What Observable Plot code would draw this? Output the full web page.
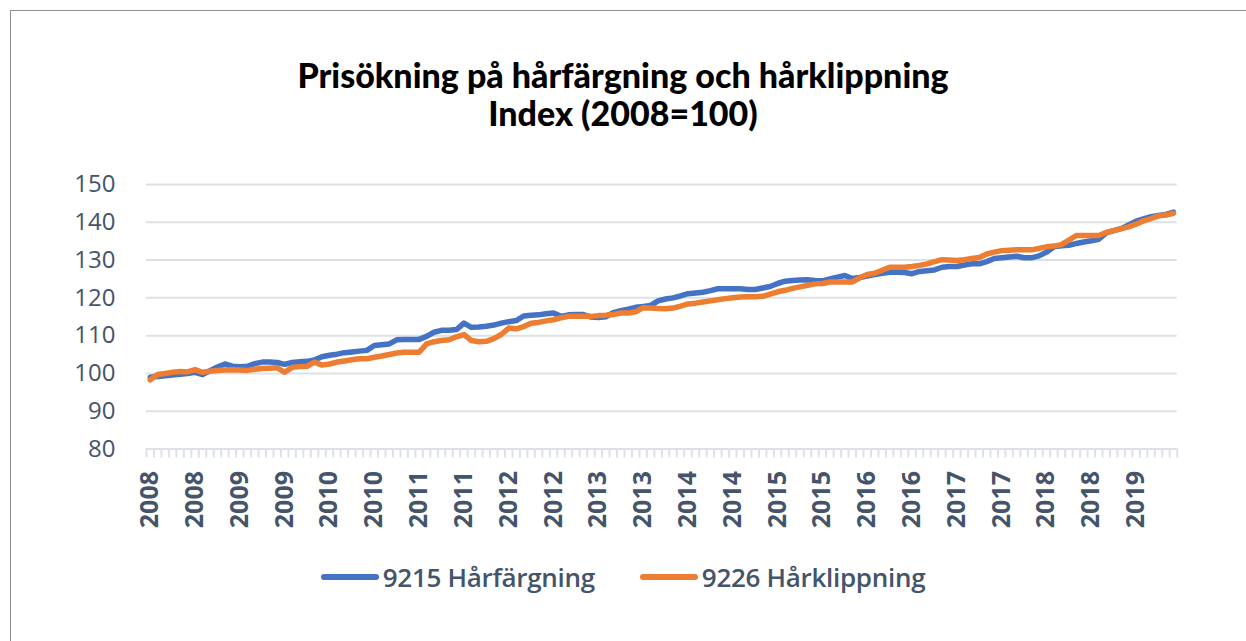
<!DOCTYPE html>
<html><head><meta charset="utf-8">
<script src="https://cdn.jsdelivr.net/npm/d3@7"></script>
<script src="https://cdn.jsdelivr.net/npm/@observablehq/plot@0.6"></script>
<style>
body{margin:0;background:#fff;}
#wrap{position:relative;width:1246px;height:641px;overflow:hidden;font-family:"Open Sans",sans-serif;background:#fff;}
#frame{position:absolute;left:10px;top:10px;width:1250px;height:650px;border-left:1.5px solid #8f8f8f;border-top:1.5px solid #8f8f8f;}
#title{position:absolute;left:0;width:1246px;top:56px;text-align:center;font-family:Lato,sans-serif;font-weight:900;font-size:34px;line-height:38px;color:#000;}
#chart{position:absolute;left:0;top:150px;}
#legend{position:absolute;top:562px;left:0;width:1246px;height:30px;display:flex;justify-content:center;align-items:center;font-family:"Open Sans",sans-serif;font-weight:600;font-size:26px;letter-spacing:-0.3px;color:#44546a;}
.item{display:flex;align-items:center;margin:0 22.5px;}
.sw{width:58px;height:6px;border-radius:3px;margin-right:4px;}
</style></head>
<body><div id="wrap"><div id="frame"></div>
<div id="title">Prisökning på hårfärgning och hårklippning<br>Index (2008=100)</div>
<div id="chart"></div>
<div id="legend"></div></div>
<script>
// Series names and colours
const seriesNames = ["9215 Hårfärgning", "9226 Hårklippning"];
const seriesColors = ["#4472c4", "#ed7d31"];
// Monthly index values, Jan 2008 – Jun 2019
const harfargning = [
 99.0, 99.2, 99.4, 99.6, 99.8,100.0,100.3, 99.7,100.7,101.7,102.5,101.9,
101.8,101.9,102.6,103.0,103.0,102.9,102.4,102.9,103.1,103.2,103.6,104.4,
104.8,105.1,105.5,105.7,105.9,106.1,107.4,107.6,107.8,108.9,109.0,109.0,
109.0,109.8,110.9,111.4,111.4,111.6,113.3,112.2,112.3,112.5,112.8,113.3,
113.7,114.0,115.2,115.4,115.5,115.8,116.0,115.1,115.5,115.6,115.6,114.9,
114.8,115.0,116.1,116.6,117.0,117.5,117.7,118.0,119.2,119.7,120.0,120.5,
121.1,121.3,121.5,121.9,122.4,122.4,122.4,122.4,122.2,122.2,122.6,123.0,
123.8,124.4,124.6,124.7,124.8,124.6,124.5,125.0,125.5,125.9,125.1,125.4,
125.8,126.2,126.5,126.8,126.8,126.7,126.4,127.0,127.2,127.4,128.1,128.3,
128.3,128.7,129.0,129.0,129.6,130.4,130.6,130.8,131.0,130.6,130.6,131.1,
132.1,133.5,133.8,133.9,134.4,134.8,135.1,135.5,137.2,137.8,138.3,139.3,
140.3,140.9,141.5,141.8,142.1,142.7];
const harklippning = [
 98.3, 99.7,100.0,100.3,100.5,100.4,101.0,100.3,100.6,100.8,100.9,101.0,
100.9,100.8,101.1,101.3,101.4,101.5,100.3,101.6,101.8,101.9,103.0,102.2,
102.5,103.0,103.3,103.6,103.9,103.9,104.3,104.6,105.0,105.4,105.6,105.6,
105.6,107.8,108.4,108.7,108.9,109.7,110.3,108.7,108.4,108.5,109.2,110.3,
112.0,111.8,112.4,113.3,113.5,113.9,114.2,114.7,115.1,115.1,115.1,115.1,
115.3,115.4,115.6,116.0,116.0,116.3,117.4,117.3,117.2,117.1,117.3,117.8,
118.4,118.6,118.9,119.2,119.5,119.8,120.0,120.2,120.3,120.3,120.4,121.0,
121.6,122.0,122.5,122.9,123.3,123.7,123.8,124.2,124.2,124.2,124.2,125.3,
126.2,126.5,127.3,128.1,128.1,128.1,128.3,128.6,129.0,129.6,130.1,130.0,
129.9,130.1,130.4,130.7,131.6,132.1,132.5,132.6,132.7,132.7,132.7,133.1,
133.5,133.7,134.1,135.3,136.5,136.5,136.5,136.5,137.3,137.8,138.3,138.8,
139.5,140.4,141.0,141.7,141.9,142.4];
// Category axis: months, labelled with the year every 6th month
const months = d3.utcMonths(new Date(Date.UTC(2008,0,1)), new Date(Date.UTC(2019,6,1)));
const yTicks = [80, 90, 100, 110, 120, 130, 140, 150];

const rows = [];
months.forEach((m, i) => {
  rows.push({i, series: seriesNames[0], value: harfargning[i]});
  rows.push({i, series: seriesNames[1], value: harklippning[i]});
});
const n = months.length;
const labelIdx = d3.range(0, n, 6);
const boundaries = d3.range(0, n + 1).map(k => k - 0.5);

const textColor = "#44546a";
const chart = Plot.plot({
  width: 1246,
  height: 400,
  marginLeft: 146,
  marginRight: 69.3,
  marginTop: 34,
  marginBottom: 101.5,
  style: {fontFamily: "'Open Sans', sans-serif", background: "transparent", overflow: "visible"},
  x: {type: "linear", domain: [-0.5, n - 0.5]},
  y: {domain: [80, 150]},
  color: {domain: seriesNames, range: seriesColors},
  marks: [
    Plot.gridY(yTicks, {stroke: "#dde1e6", strokeOpacity: 1, strokeWidth: 2}),
    Plot.axisX(boundaries, {tickSize: 9, stroke: "#dde1e6", strokeWidth: 2, tickFormat: () => "", label: null}),
    Plot.axisX(labelIdx, {tickSize: 0, tickPadding: 22, tickRotate: -90, tickFormat: i => String(months[i].getUTCFullYear()),
      fontSize: 25, fontWeight: "bold", fill: textColor, label: null}),
    Plot.axisY(yTicks, {tickSize: 0, tickPadding: 31, fontSize: 24, fill: textColor, label: null}),
    Plot.line(rows, {x: "i", y: "value", z: "series", stroke: "series", strokeWidth: 5.5,
      strokeLinejoin: "round", strokeLinecap: "round"})
  ]
});
document.getElementById("chart").appendChild(chart);

const legend = document.getElementById("legend");
seriesNames.forEach((s, k) => {
  const it = document.createElement("div"); it.className = "item";
  const sw = document.createElement("div"); sw.className = "sw"; sw.style.background = seriesColors[k];
  const tx = document.createElement("span"); tx.textContent = s;
  it.appendChild(sw); it.appendChild(tx); legend.appendChild(it);
});
</script></body></html>
